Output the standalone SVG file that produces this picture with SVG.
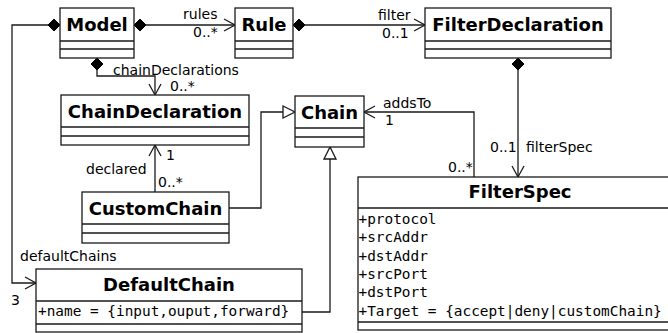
<svg xmlns="http://www.w3.org/2000/svg" width="668" height="333" viewBox="0 0 668 333">
<style>
.box{fill:#fff;stroke:#1a1a1a;stroke-width:1.3}
.sep{stroke:#1a1a1a;stroke-width:1.3;fill:none}
.title{font-family:"DejaVu Sans",sans-serif;font-weight:bold;font-size:18px;text-anchor:middle;fill:#000}
.attr{font-family:"DejaVu Sans Mono",monospace;font-size:14.4px;fill:#000}
.lbl{font-family:"DejaVu Sans",sans-serif;font-size:14px;fill:#000}
.edge{fill:none;stroke:#1a1a1a;stroke-width:1.3}
</style>
<defs>
<marker id="open" markerUnits="userSpaceOnUse" markerWidth="14" markerHeight="14" refX="0" refY="0" orient="auto" overflow="visible">
<path d="M-11,-6 L0,0 L-11,6" fill="none" stroke="#1a1a1a" stroke-width="1.3"/>
</marker>
<marker id="tri" markerUnits="userSpaceOnUse" markerWidth="14" markerHeight="14" refX="0" refY="0" orient="auto" overflow="visible">
<path d="M-12,-6 L0,0 L-12,6 Z" fill="#fff" stroke="#1a1a1a" stroke-width="1.3"/>
</marker>
<marker id="dia" markerUnits="userSpaceOnUse" markerWidth="14" markerHeight="14" refX="0" refY="0" orient="auto" overflow="visible">
<path d="M0,0 L6,-6 L12,0 L6,6 Z" fill="#000" stroke="#000" stroke-width="1"/>
</marker>
</defs>

<g id="connectors">
<path class="edge" d="M60,25 L12,25 L12,283 L36,283" marker-start="url(#dia)" marker-end="url(#open)"/>
<path class="edge" d="M134,25 L235,25" marker-start="url(#dia)" marker-end="url(#open)"/>
<path class="edge" d="M97,58 L97,76 L155,76 L155,95" marker-start="url(#dia)" marker-end="url(#open)"/>
<path class="edge" d="M293,25 L425,25" marker-start="url(#dia)" marker-end="url(#open)"/>
<path class="edge" d="M518,58 L518,177" marker-start="url(#dia)" marker-end="url(#open)"/>
<path class="edge" d="M155,192 L155,145" marker-end="url(#open)"/>
<path class="edge" d="M229,208 L261,208 L261,112 L295,112" marker-end="url(#tri)"/>
<path class="edge" d="M302,312 L330,312 L330,147" marker-end="url(#tri)"/>
<path class="edge" d="M474,177 L474,112 L364,112" marker-end="url(#open)"/>
<text class="lbl" x="183" y="19">rules</text>
<text class="lbl" x="193" y="37">0..*</text>
<text class="lbl" x="113" y="75">chainDeclarations</text>
<text class="lbl" x="170" y="91">0..*</text>
<text class="lbl" x="378" y="20">filter</text>
<text class="lbl" x="382" y="38">0..1</text>
<text class="lbl" x="490" y="152">0..1</text>
<text class="lbl" x="526" y="152">filterSpec</text>
<text class="lbl" x="383" y="108">addsTo</text>
<text class="lbl" x="385" y="125">1</text>
<text class="lbl" x="448" y="172">0..*</text>
<text class="lbl" x="166" y="160">1</text>
<text class="lbl" x="86" y="174">declared</text>
<text class="lbl" x="158" y="187">0..*</text>
<text class="lbl" x="20" y="261">defaultChains</text>
<text class="lbl" x="11" y="305">3</text>
</g>

<g id="Model">
<rect class="box" x="60" y="8" width="74" height="50"/>
<path class="sep" d="M60,41 H134 M60,49 H134"/>
<text class="title" x="97" y="31">Model</text>
</g>

<g id="Rule">
<rect class="box" x="235" y="8" width="58" height="50"/>
<path class="sep" d="M235,41 H293 M235,49 H293"/>
<text class="title" x="264" y="31">Rule</text>
</g>

<g id="FilterDeclaration">
<rect class="box" x="425" y="8" width="186" height="50"/>
<path class="sep" d="M425,41 H611 M425,49 H611"/>
<text class="title" x="518" y="31">FilterDeclaration</text>
</g>

<g id="ChainDeclaration">
<rect class="box" x="61" y="95" width="188" height="50"/>
<path class="sep" d="M61,127 H249 M61,136 H249"/>
<text class="title" x="155" y="118">ChainDeclaration</text>
</g>

<g id="Chain">
<rect class="box" x="295" y="96" width="69" height="51"/>
<path class="sep" d="M295,128 H364 M295,137 H364"/>
<text class="title" x="329.5" y="118.5">Chain</text>
</g>

<g id="CustomChain">
<rect class="box" x="82" y="192" width="147" height="51"/>
<path class="sep" d="M82,224 H229 M82,233 H229"/>
<text class="title" x="155.5" y="215">CustomChain</text>
</g>

<g id="DefaultChain">
<rect class="box" x="36" y="269" width="266" height="63"/>
<path class="sep" d="M36,301 H302 M36,324 H302"/>
<text class="title" x="169" y="291">DefaultChain</text>
<text class="attr" x="38" y="316">+name = {input,ouput,forward}</text>
</g>

<g id="FilterSpec">
<rect class="box" x="358" y="177" width="330" height="153"/>
<path class="sep" d="M358,208 H688 M358,322 H688"/>
<text class="title" x="520" y="197.5">FilterSpec</text>
<text class="attr" x="358.5" y="224">+protocol</text>
<text class="attr" x="358.5" y="242.3">+srcAddr</text>
<text class="attr" x="358.5" y="260.6">+dstAddr</text>
<text class="attr" x="358.5" y="279">+srcPort</text>
<text class="attr" x="358.5" y="297.3">+dstPort</text>
<text class="attr" x="358.5" y="315.6">+Target = {accept|deny|customChain}</text>
</g>
</svg>
